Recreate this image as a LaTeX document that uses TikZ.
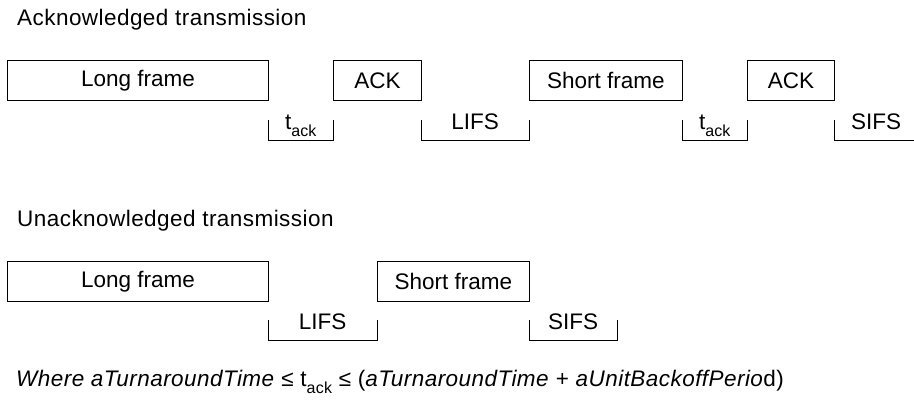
\documentclass[tikz,border=0pt]{standalone}
\usepackage{fontspec}
\setmainfont{Liberation Sans}
\usetikzlibrary{positioning}

% subscript used for t_ack
\newcommand{\acksub}{\raisebox{-7pt}{\fontsize{16}{16}\selectfont ack}}

\tikzset{
  frame/.style={draw, line width=0.9pt, minimum height=40pt, inner sep=0pt, anchor=north west},
  gap/.style={minimum height=20pt, inner sep=0pt, anchor=north west},
  gaplabel/.style={anchor=base, inner sep=0pt},
  bracket/.style={line width=0.9pt},
  title/.style={anchor=base west, inner sep=0pt, font=\fontsize{22.5}{27}\selectfont\addfontfeature{LetterSpace=2}}
}

\begin{document}
\begin{tikzpicture}[x=1pt, y=-1pt, font=\fontsize{22.5}{27}\selectfont]
  \useasboundingbox (0,0) rectangle (914,406);

  % Acknowledged transmission
  \node[title] (acktitle) at (17,26) {Acknowledged transmission};

  \node[frame, minimum width=261pt] (long1) at (7,60) {Long frame};
  \node[frame, minimum width=88pt] (ack1) at (333,60) {ACK};
  \node[frame, minimum width=153pt] (short1) at (529,60) {Short frame};
  \node[frame, minimum width=87pt] (ack2) at (747,60) {ACK};

  % gaps between the frames
  \node[gap, minimum width=65pt] (tack1) at (268,120) {};
  \node[gap, minimum width=108pt] (lifs1) at (421,120) {};
  \node[gap, minimum width=65pt] (tack2) at (682,120) {};
  \node[gap, minimum width=84pt] (sifs1) at (834,120) {};

  \foreach \g in {tack1, lifs1, tack2, sifs1}
    \draw[bracket] (\g.north west) -- (\g.south west) -- (\g.south east) -- (\g.north east);

  \node[gaplabel] (tack1t) at ([yshift=-10pt]tack1.north) {t\acksub};
  \node[gaplabel] (lifs1t) at ([yshift=-10pt]lifs1.north) {LIFS};
  \node[gaplabel] (tack2t) at ([yshift=-10pt]tack2.north) {t\acksub};
  \node[gaplabel] (sifs1t) at ([yshift=-10pt]sifs1.north) {SIFS};

  % Unacknowledged transmission
  \node[title] (unacktitle) at (17,227) {Unacknowledged transmission};

  \node[frame, minimum width=261pt] (long2) at (7,261) {Long frame};
  \node[frame, minimum width=152pt] (short2) at (377,261) {Short frame};

  \node[gap, minimum width=109pt] (lifs2) at (268,320) {};
  \node[gap, minimum width=88pt] (sifs2) at (529,320) {};

  \foreach \g in {lifs2, sifs2}
    \draw[bracket] (\g.north west) -- (\g.south west) -- (\g.south east) -- (\g.north east);

  \node[gaplabel] (lifs2t) at ([yshift=-10pt]lifs2.north) {LIFS};
  \node[gaplabel] (sifs2t) at ([yshift=-10pt]sifs2.north) {SIFS};

  % note on t_ack
  \node[title] (note) at (16,387)
    {\textit{Where aTurnaroundTime} ≤ t\acksub{} ≤ (\textit{aTurnaroundTime} + \textit{aUnitBackoffPerio}d)};
\end{tikzpicture}
\end{document}
